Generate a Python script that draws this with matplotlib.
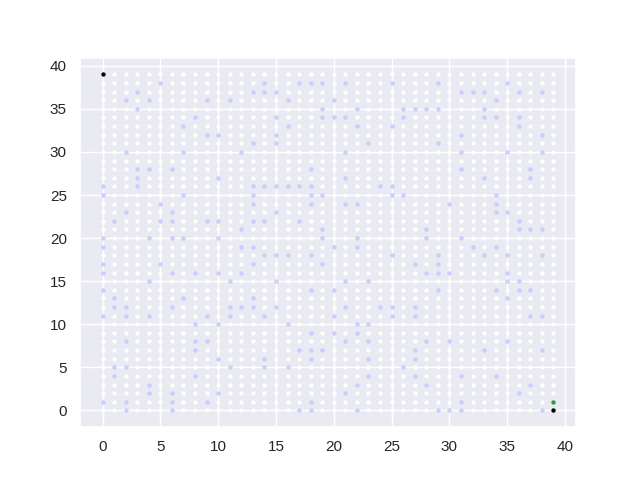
import matplotlib
matplotlib.use('Agg')
import matplotlib.pyplot as plt
import seaborn as sns
import numpy as np

sns.set_theme()
plt.rcParams['font.family'] = ['Liberation Sans', 'DejaVu Sans']

grid_size = 40

# blue cells, listed row by row (top to bottom)
obstacle_x = [
    5, 14, 17, 18, 19, 21, 25, 29, 35,            # 38
    3, 13, 14, 15, 31, 32, 33, 36, 38,            # 37
    2, 4, 9, 11, 16, 20, 34,                      # 36
    3, 19, 22, 26, 27, 28, 29, 33,                # 35
    8, 15, 19, 20, 21, 26, 33, 34, 36,            # 34
    7, 16, 22, 25, 36,                            # 33
    9, 10, 15, 31, 38,                            # 32
    13, 15, 23, 29,                               # 31
    2, 7, 12, 21, 31, 35, 38,                     # 30
    3, 4, 6, 18, 31, 37,                          # 28
    3, 10, 21, 33, 37,                            # 27
    0, 3, 13, 14, 15, 16, 17, 18, 24, 25,         # 26
    0, 7, 13, 18, 19, 25, 26, 34,                 # 25
    5, 13, 18, 21, 22, 30, 34,                    # 24
    2, 6, 15, 34, 35,                             # 23
    1, 5, 6, 9, 10, 13, 14, 17, 36,               # 22
    12, 19, 28, 36, 37, 38,                       # 21
    0, 4, 6, 7, 10, 19, 22, 28, 31,               # 20
    0, 12, 13, 20, 22, 32, 34,                    # 19
    14, 15, 16, 18, 25, 29, 33, 35, 38,           # 18
    0, 5, 13, 19, 27, 29,                         # 17
    0, 6, 8, 10, 12, 28, 29, 30, 35,              # 16
    4, 11, 15, 21, 23, 35, 36,                    # 15
    0, 18, 20, 29, 34, 36, 37,                    # 14
    1, 7, 13, 35,                                 # 13
    1, 2, 6, 11, 12, 13, 15, 21, 24, 25, 27,      # 12
    0, 2, 4, 9, 11, 14, 20, 25, 27, 37, 38,       # 11
    8, 10, 16, 22, 23,                            # 10
    18, 20, 22,                                   # 9
    2, 8, 9, 21, 23, 28, 30, 35,                  # 8
    8, 17, 18, 19, 27, 33, 38,                    # 7
    10, 14, 18, 23, 27,                           # 6
    1, 2, 11, 14, 16, 26,                         # 5
    1, 8, 23, 27, 31, 34,                         # 4
    4, 22, 28, 37,                                # 3
    4, 6, 10, 21, 36,                             # 2
    0, 2, 6, 9, 18, 31,                           # 1
    2, 6, 17, 18, 22, 29, 30, 31, 38,             # 0
]
obstacle_y = (
    [38] * 9 + [37] * 9 + [36] * 7 + [35] * 8 + [34] * 9 + [33] * 5
    + [32] * 5 + [31] * 4 + [30] * 7 + [28] * 6 + [27] * 5 + [26] * 10
    + [25] * 8 + [24] * 7 + [23] * 5 + [22] * 9 + [21] * 6 + [20] * 9
    + [19] * 7 + [18] * 9 + [17] * 6 + [16] * 9 + [15] * 7 + [14] * 7
    + [13] * 4 + [12] * 11 + [11] * 11 + [10] * 5 + [9] * 3 + [8] * 8
    + [7] * 7 + [6] * 5 + [5] * 6 + [4] * 6 + [3] * 4 + [2] * 5
    + [1] * 6 + [0] * 9
)

start = (0, 39)
goal = (39, 0)
visited = (39, 1)

xs, ys = np.meshgrid(np.arange(grid_size), np.arange(grid_size))

fig, ax = plt.subplots(figsize=(6.4, 4.8), dpi=100)
ax.scatter(xs.ravel(), ys.ravel(), s=9, color='white', linewidths=0)
ax.scatter(obstacle_x, obstacle_y, s=10, color='blue', alpha=0.2, linewidths=0)
ax.scatter(*visited, s=10, color='green', alpha=0.8, linewidths=0)
ax.scatter([start[0], goal[0]], [start[1], goal[1]], s=10, color='black',
           linewidths=0)

plt.savefig('out.png')
